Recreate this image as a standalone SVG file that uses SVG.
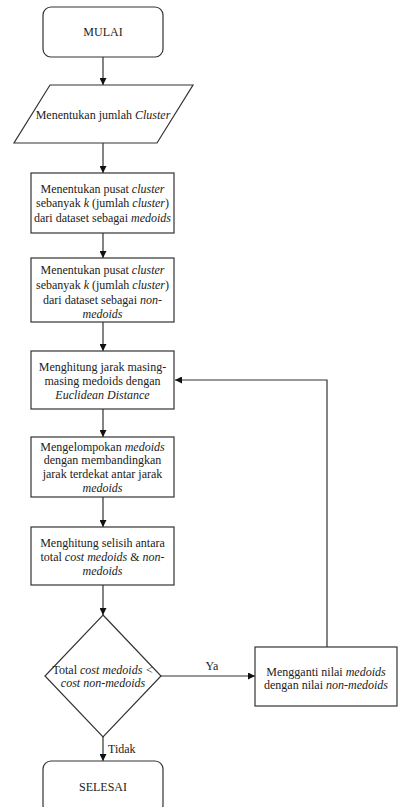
<svg xmlns="http://www.w3.org/2000/svg" width="399" height="807" viewBox="0 0 399 807" font-family="'Liberation Serif', 'Times New Roman', Tinos, 'DejaVu Serif', serif">
<defs>
<marker id="ah" viewBox="0 0 10 10" refX="10" refY="5" markerWidth="7" markerHeight="7" orient="auto" markerUnits="userSpaceOnUse">
<path d="M0,0 L10,5 L0,10 Z" fill="#111"/>
</marker>
<style>
.s{fill:#fff;stroke:#333;stroke-width:1.2}
.t{font-family:'Liberation Serif','Times New Roman',Tinos,'DejaVu Serif',serif;font-size:12px;fill:#222;text-anchor:middle}
.c{fill:none;stroke:#333;stroke-width:1.2;marker-end:url(#ah)}
</style>
</defs>
<rect width="399" height="807" fill="#fff"/>
<g id="connectors">
<path class="c" d="M103,57 V85"/>
<path class="c" d="M103,143 V173"/>
<path class="c" d="M103,233 V258"/>
<path class="c" d="M103,322 V351"/>
<path class="c" d="M103,409 V437"/>
<path class="c" d="M103,497 V527"/>
<path class="c" d="M103,585 V615"/>
<path class="c" d="M161,676 H255"/>
<path class="c" d="M103,737 V761"/>
<path class="c" d="M327,647 V380 H175"/>
<text class="t" x="212" y="670">Ya</text>
<text class="t" x="108" y="753" style="text-anchor:start">Tidak</text>
</g>
<g id="mulai">
<rect class="s" x="43" y="7" width="120" height="50" rx="8"/>
<text class="t" x="103" y="36">MULAI</text>
</g>
<g id="jumlah-cluster">
<path class="s" d="M50,85 H193 L157,143 H14 Z"/>
<text class="t" x="103" y="119">Menentukan jumlah <tspan font-style="italic">Cluster</tspan></text>
</g>
<g id="pusat-medoids">
<rect class="s" x="31" y="173" width="143" height="60"/>
<text class="t" x="102.5" y="193">Menentukan pusat <tspan font-style="italic">cluster</tspan></text>
<text class="t" x="102.5" y="207">sebanyak <tspan font-style="italic">k</tspan> (jumlah <tspan font-style="italic">cluster</tspan>)</text>
<text class="t" x="102.5" y="222">dari dataset sebagai <tspan font-style="italic">medoids</tspan></text>
</g>
<g id="pusat-non-medoids">
<rect class="s" x="31" y="258" width="143" height="64"/>
<text class="t" x="102.5" y="274">Menentukan pusat <tspan font-style="italic">cluster</tspan></text>
<text class="t" x="102.5" y="289">sebanyak <tspan font-style="italic">k</tspan> (jumlah <tspan font-style="italic">cluster</tspan>)</text>
<text class="t" x="102.5" y="304">dari dataset sebagai <tspan font-style="italic">non-</tspan></text>
<text class="t" x="102.5" y="318" font-style="italic">medoids</text>
</g>
<g id="hitung-jarak">
<rect class="s" x="31" y="351" width="143" height="58"/>
<text class="t" x="102.5" y="371">Menghitung jarak masing-</text>
<text class="t" x="102.5" y="385">masing medoids dengan</text>
<text class="t" x="102.5" y="399" font-style="italic">Euclidean Distance</text>
</g>
<g id="kelompok">
<rect class="s" x="31" y="437" width="143" height="60"/>
<text class="t" x="102.5" y="451">Mengelompokan  <tspan font-style="italic">medoids</tspan></text>
<text class="t" x="102.5" y="464">dengan membandingkan</text>
<text class="t" x="102.5" y="478">jarak terdekat antar jarak</text>
<text class="t" x="102.5" y="492" font-style="italic">medoids</text>
</g>
<g id="selisih">
<rect class="s" x="31" y="527" width="143" height="58"/>
<text class="t" x="102.5" y="547">Menghitung selisih antara</text>
<text class="t" x="102.5" y="561">total  <tspan font-style="italic">cost medoids</tspan> &amp; <tspan font-style="italic">non-</tspan></text>
<text class="t" x="102.5" y="575" font-style="italic">medoids</text>
</g>
<g id="decision">
<path class="s" d="M103,615 L161,676 L103,737 L45,676 Z"/>
<text class="t" x="103" y="674">Total <tspan font-style="italic">cost medoids &lt;</tspan></text>
<text class="t" x="103" y="687" font-style="italic">cost non-medoids</text>
</g>
<g id="ganti">
<rect class="s" x="255" y="647" width="142" height="59"/>
<text class="t" x="326" y="676">Mengganti nilai <tspan font-style="italic">medoids</tspan></text>
<text class="t" x="326" y="689">dengan nilai <tspan font-style="italic">non-medoids</tspan></text>
</g>
<g id="selesai">
<rect class="s" x="43" y="761" width="120" height="52" rx="8"/>
<text class="t" x="103" y="791">SELESAI</text>
</g>
</svg>
